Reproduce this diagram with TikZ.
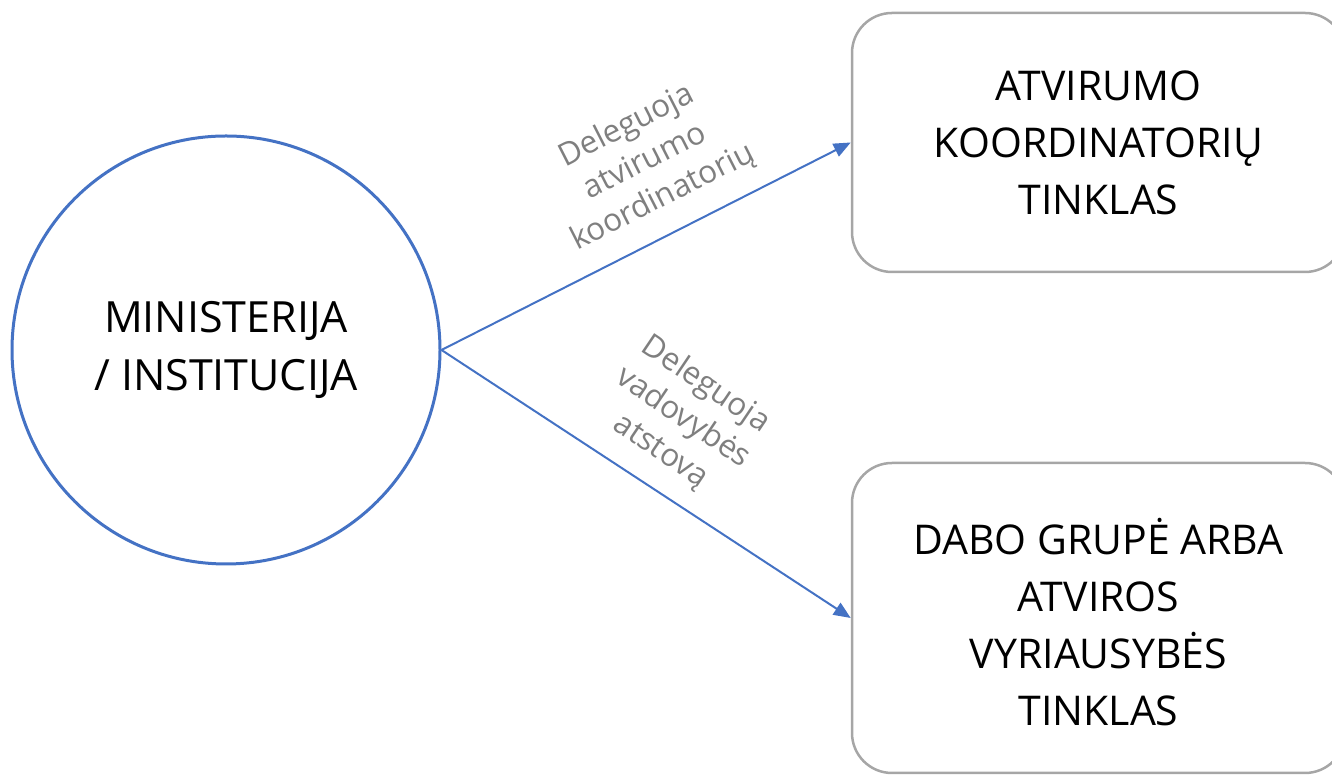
\documentclass[tikz,border=0pt]{standalone}
\usepackage{fontspec}
\setmainfont{Open Sans}
\usetikzlibrary{arrows.meta}
\definecolor{cblue}{HTML}{4472C4}
\definecolor{bgray}{HTML}{A6A6A6}
\definecolor{tgray}{HTML}{7F7F7F}
\begin{document}
\begin{tikzpicture}[x=1pt,y=1pt,
  bigtext/.style={font=\fontsize{41}{57}\selectfont, align=center, text=black},
  box/.style={bigtext, draw=bgray, line width=2.5pt, rounded corners=40pt, minimum width=493pt, inner sep=0pt},
  lbl/.style={font=\fontsize{31.5}{40}\selectfont, text=tgray, align=center, inner sep=0pt},
  conn/.style={draw=cblue, line width=2pt, -{Triangle[length=17pt,width=14pt]}}]
\useasboundingbox (0,0) rectangle (1332,775);
\node[bigtext, font=\fontsize{43}{58}\selectfont, draw=cblue, line width=3pt, circle, minimum size=428pt, inner sep=0pt] (c) at (226,425) {MINISTERIJA\\/ INSTITUCIJA};
\node[box, minimum height=259pt] (b1) at (1098.5,632.5) {ATVIRUMO\\KOORDINATORIŲ\\TINKLAS};
\node[box, minimum height=310pt] (b2) at (1098.5,157) {\rule{0pt}{44pt}DABO GRUPĖ ARBA\\ATVIROS\\VYRIAUSYBĖS\\TINKLAS};
\draw[conn] (c.east) -- (b1.west);
\draw[conn] (c.east) -- (b2.west);
\node[lbl, rotate=27] (l1) at (645,613) {Deleguoja\\atvirumo\\koordinatorių};
\node[lbl, rotate=-34] (l2) at (683,357) {Deleguoja\\vadovybės\\atstovą};
\end{tikzpicture}
\end{document}
